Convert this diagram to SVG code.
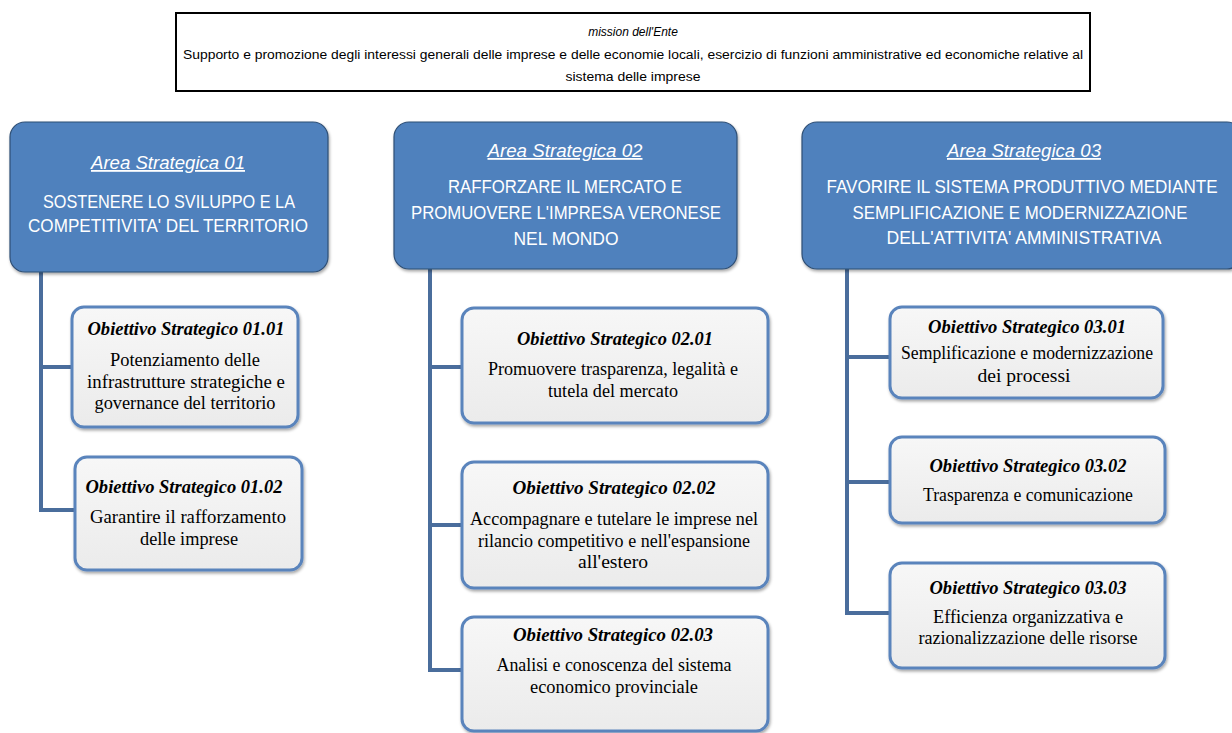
<svg xmlns="http://www.w3.org/2000/svg" width="1232" height="733" viewBox="0 0 1232 733">
<defs>
<filter id="sh" x="-10%" y="-10%" width="120%" height="130%">
<feDropShadow dx="1" dy="2" stdDeviation="1.5" flood-color="#000" flood-opacity="0.35"/>
</filter>
<linearGradient id="og" x1="0" y1="0" x2="0" y2="1">
<stop offset="0" stop-color="#f7f7f7"/>
<stop offset="1" stop-color="#ebebeb"/>
</linearGradient>
</defs>
<style>
.mission{fill:#fff;stroke:#000;stroke-width:2}
.mt{font-family:"Liberation Sans",Arial,sans-serif;font-size:12px;fill:#000;text-anchor:middle}
.area{fill:#4f81bd;stroke:#2f4f75;stroke-width:1.2;filter:url(#sh)}
.at{font-family:"Liberation Sans",Arial,sans-serif;font-size:18px;fill:#fff;text-anchor:middle}
.ati{font-style:italic;text-decoration:underline}
.obj{fill:url(#og);stroke:#5a84bc;stroke-width:3;filter:url(#sh)}
.ot{font-family:"Liberation Serif","Times New Roman",serif;font-size:18px;fill:#000;text-anchor:middle}
.oti{font-style:italic;font-weight:bold}
.con{fill:none;stroke:#4a6d9c;stroke-width:4}
</style>
<rect width="1232" height="733" fill="#fff"/>

<g id="mission">
<rect class="mission" x="176" y="13" width="914" height="78"/>
<text class="mt" x="633" y="36" font-style="italic">mission dell'Ente</text>
<text class="mt" x="633" y="59" textLength="900" lengthAdjust="spacingAndGlyphs">Supporto e promozione degli interessi generali delle imprese e delle economie locali, esercizio di funzioni amministrative ed economiche relative al</text>
<text class="mt" x="633" y="81" textLength="135" lengthAdjust="spacingAndGlyphs">sistema delle imprese</text>
</g>

<g id="connectors">
<path class="con" d="M41,272 V510 H75 M41,367 H72"/>
<path class="con" d="M430,269 V670 H462 M430,367 H462 M430,525 H462"/>
<path class="con" d="M847,269 V613 H890 M847,357 H890 M847,482 H890"/>
</g>

<g id="area1">
<rect class="area" x="10" y="122" width="318" height="150" rx="15"/>
<text class="at ati" x="168" y="169" textLength="154" lengthAdjust="spacingAndGlyphs">Area Strategica 01</text>
<text class="at" x="169" y="208" textLength="252" lengthAdjust="spacingAndGlyphs">SOSTENERE LO SVILUPPO E LA</text>
<text class="at" x="168" y="232" textLength="280" lengthAdjust="spacingAndGlyphs">COMPETITIVITA' DEL TERRITORIO</text>
</g>

<g id="area2">
<rect class="area" x="394" y="122" width="343" height="147" rx="15"/>
<text class="at ati" x="565" y="157" textLength="155" lengthAdjust="spacingAndGlyphs">Area Strategica 02</text>
<text class="at" x="565" y="193" textLength="234" lengthAdjust="spacingAndGlyphs">RAFFORZARE IL MERCATO E</text>
<text class="at" x="566" y="219" textLength="310" lengthAdjust="spacingAndGlyphs">PROMUOVERE L'IMPRESA VERONESE</text>
<text class="at" x="566" y="245" textLength="105" lengthAdjust="spacingAndGlyphs">NEL MONDO</text>
</g>

<g id="area3">
<rect class="area" x="802" y="122" width="440" height="147" rx="15"/>
<text class="at ati" x="1024" y="157" textLength="154" lengthAdjust="spacingAndGlyphs">Area Strategica 03</text>
<text class="at" transform="translate(1022,193) scale(0.85,1)" x="0" y="0" textLength="460" lengthAdjust="spacingAndGlyphs">FAVORIRE IL SISTEMA PRODUTTIVO MEDIANTE</text>
<text class="at" x="1020" y="219" textLength="335" lengthAdjust="spacingAndGlyphs">SEMPLIFICAZIONE  E MODERNIZZAZIONE</text>
<text class="at" x="1024" y="244" textLength="275" lengthAdjust="spacingAndGlyphs">DELL'ATTIVITA' AMMINISTRATIVA</text>
</g>

<g id="obj0101">
<rect class="obj" x="72" y="307" width="226" height="120" rx="12"/>
<text class="ot oti" x="186" y="335" textLength="197" lengthAdjust="spacingAndGlyphs">Obiettivo Strategico 01.01</text>
<text class="ot" x="185" y="366" textLength="150" lengthAdjust="spacingAndGlyphs">Potenziamento delle</text>
<text class="ot" x="186" y="388" textLength="198" lengthAdjust="spacingAndGlyphs">infrastrutture strategiche  e</text>
<text class="ot" x="185" y="409" textLength="181" lengthAdjust="spacingAndGlyphs">governance del territorio</text>
</g>

<g id="obj0102">
<rect class="obj" x="75" y="457" width="227" height="113" rx="12"/>
<text class="ot oti" x="184" y="493" textLength="197" lengthAdjust="spacingAndGlyphs">Obiettivo Strategico 01.02</text>
<text class="ot" x="188" y="523" textLength="196" lengthAdjust="spacingAndGlyphs">Garantire il rafforzamento</text>
<text class="ot" x="189" y="545" textLength="98" lengthAdjust="spacingAndGlyphs">delle imprese</text>
</g>

<g id="obj0201">
<rect class="obj" x="462" y="308" width="306" height="115" rx="12"/>
<text class="ot oti" x="615" y="345" textLength="196" lengthAdjust="spacingAndGlyphs">Obiettivo Strategico 02.01</text>
<text class="ot" x="613" y="375" textLength="250" lengthAdjust="spacingAndGlyphs">Promuovere trasparenza, legalità e</text>
<text class="ot" x="613" y="397" textLength="130" lengthAdjust="spacingAndGlyphs">tutela  del mercato</text>
</g>

<g id="obj0202">
<rect class="obj" x="462" y="462" width="306" height="126" rx="12"/>
<text class="ot oti" x="614" y="494" textLength="203" lengthAdjust="spacingAndGlyphs">Obiettivo Strategico 02.02</text>
<text class="ot" x="614" y="525" textLength="288" lengthAdjust="spacingAndGlyphs">Accompagnare e tutelare le imprese nel</text>
<text class="ot" x="614" y="547" textLength="272" lengthAdjust="spacingAndGlyphs">rilancio  competitivo e nell'espansione</text>
<text class="ot" x="613" y="568" textLength="70" lengthAdjust="spacingAndGlyphs">all'estero</text>
</g>

<g id="obj0203">
<rect class="obj" x="462" y="617" width="306" height="114" rx="12"/>
<text class="ot oti" x="613" y="641" textLength="200" lengthAdjust="spacingAndGlyphs">Obiettivo Strategico 02.03</text>
<text class="ot" x="614" y="671" textLength="235" lengthAdjust="spacingAndGlyphs">Analisi e conoscenza del sistema</text>
<text class="ot" x="614" y="693" textLength="168" lengthAdjust="spacingAndGlyphs">economico provinciale</text>
</g>

<g id="obj0301">
<rect class="obj" x="890" y="307" width="273" height="91" rx="12"/>
<text class="ot oti" x="1027" y="333" textLength="198" lengthAdjust="spacingAndGlyphs">Obiettivo Strategico 03.01</text>
<text class="ot" x="1027" y="359" textLength="252" lengthAdjust="spacingAndGlyphs">Semplificazione e modernizzazione</text>
<text class="ot" x="1024" y="382" textLength="93" lengthAdjust="spacingAndGlyphs">dei processi</text>
</g>

<g id="obj0302">
<rect class="obj" x="890" y="437" width="275" height="86" rx="12"/>
<text class="ot oti" x="1028" y="472" textLength="197" lengthAdjust="spacingAndGlyphs">Obiettivo Strategico 03.02</text>
<text class="ot" x="1028" y="501" textLength="210" lengthAdjust="spacingAndGlyphs">Trasparenza e comunicazione</text>
</g>

<g id="obj0303">
<rect class="obj" x="890" y="563" width="275" height="105" rx="12"/>
<text class="ot oti" x="1028" y="594" textLength="197" lengthAdjust="spacingAndGlyphs">Obiettivo Strategico 03.03</text>
<text class="ot" x="1028" y="623" textLength="190" lengthAdjust="spacingAndGlyphs">Efficienza organizzativa  e</text>
<text class="ot" x="1028" y="644" textLength="219" lengthAdjust="spacingAndGlyphs">razionalizzazione  delle risorse</text>
</g>
</svg>
